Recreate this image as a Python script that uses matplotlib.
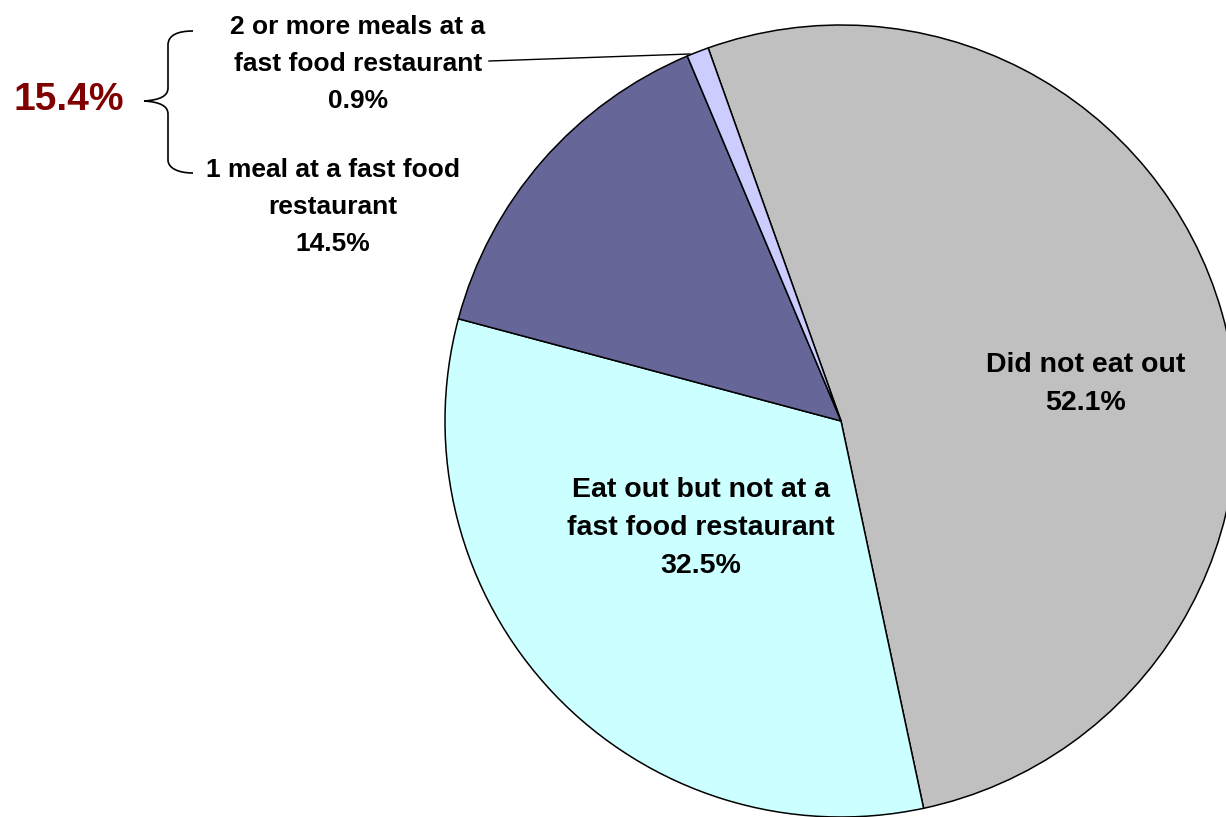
import matplotlib
matplotlib.use("Agg")
import matplotlib.pyplot as plt
from matplotlib.path import Path
from matplotlib.patches import PathPatch

# data
labels = ["Did not eat out",
          "Eat out but not at a\nfast food restaurant",
          "1 meal at a fast food\nrestaurant",
          "2 or more meals at a\nfast food restaurant"]
shares = [52.1, 32.5, 14.5, 0.9]
colors = ["#C0C0C0", "#CCFFFF", "#666699", "#CCCCFF"]
fast_food_total = "15.4%"

W, H = 1226, 817
plt.rcParams["font.family"] = ["Liberation Sans", "DejaVu Sans"]
fig = plt.figure(figsize=(W / 100, H / 100), dpi=100)
ax = fig.add_axes([0, 0, 1, 1])

def py(y):
    # pixel row (from top) -> data y
    return H - y

cx, cy, r = 841, 421, 396
ax.pie(shares, colors=colors, startangle=109.6, counterclock=False,
       center=(cx, py(cy)), radius=r, frame=True,
       wedgeprops=dict(edgecolor="black", linewidth=1.1))
ax.set_xlim(0, W)
ax.set_ylim(0, H)
ax.set_aspect("equal")
ax.axis("off")

# labels
big = 20.5
small = 19
ax.text(1086, py(384), f"{labels[0]}\n{shares[0]}%", ha="center", va="center",
        fontsize=big, fontweight="bold", linespacing=1.6)
ax.text(701, py(528), f"{labels[1]}\n{shares[1]}%", ha="center", va="center",
        fontsize=big, fontweight="bold", linespacing=1.6)
ax.text(333, py(207), f"{labels[2]}\n{shares[2]}%", ha="center", va="center",
        fontsize=small, fontweight="bold", linespacing=1.7)
ax.text(358, py(64), f"{labels[3]}\n{shares[3]}%", ha="center", va="center",
        fontsize=small, fontweight="bold", linespacing=1.7)

# leader line for the tiny slice
ax.plot([489, 690], [py(61), py(54)], color="black", linewidth=1.0)

# brace and total
pts = [(193, 31), (178, 31), (168, 35), (168, 45),
       (168, 88),
       (168, 96), (160, 100), (144, 101),
       (160, 102), (168, 106), (168, 114),
       (168, 160),
       (168, 168), (178, 173), (193, 173)]
codes = [Path.MOVETO, Path.CURVE4, Path.CURVE4, Path.CURVE4,
         Path.LINETO,
         Path.CURVE4, Path.CURVE4, Path.CURVE4,
         Path.CURVE4, Path.CURVE4, Path.CURVE4,
         Path.LINETO,
         Path.CURVE4, Path.CURVE4, Path.CURVE4]
brace = Path([(x, py(y)) for x, y in pts], codes)
ax.add_patch(PathPatch(brace, facecolor="none", edgecolor="black", linewidth=1.2))

ax.text(69, py(100), fast_food_total, ha="center", va="center",
        fontsize=28, fontweight="bold", color="#800000")

fig.savefig("out.png", dpi=100)
